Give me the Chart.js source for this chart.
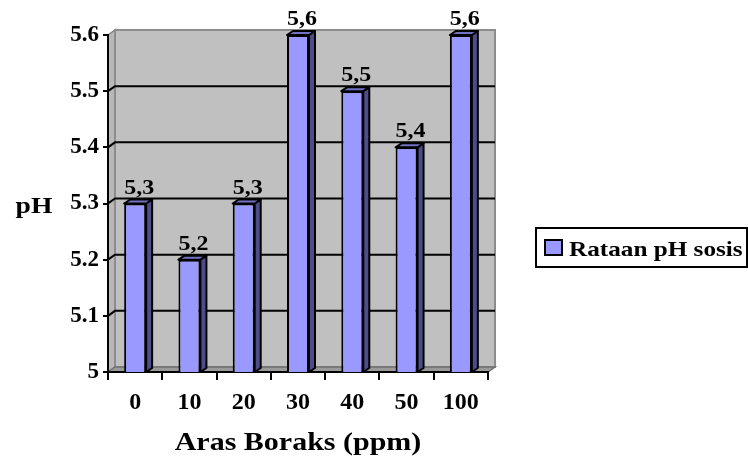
<!DOCTYPE html>
<html><head><meta charset="utf-8">
<script src="https://cdn.jsdelivr.net/npm/chart.js@4"></script>
<style>html,body{margin:0;padding:0;background:#fff}</style>
</head><body>
<canvas id="c" width="748" height="466"></canvas>
<script>
const categories = ['0', '10', '20', '30', '40', '50', '100'];
const phValues = [5.3, 5.2, 5.3, 5.6, 5.5, 5.4, 5.6];
const yTickLabels = ['5', '5.1', '5.2', '5.3', '5.4', '5.5', '5.6'];
const seriesName = 'Rataan pH sosis';
const xTitle = 'Aras Boraks (ppm)';
const yTitle = 'pH';

const FONT = "'Liberation Serif', 'Times New Roman', serif";
const WX = 7, WY = -5;   // wall depth offset
const BX = 6, BY = -4;   // bar depth offset
const SX = 1.2;          // horizontal text stretch of the original picture
const FACE = '#9999FF', TOP = '#7272C4', SIDE = '#4D4D8C';

function poly(ctx, pts) {
  ctx.beginPath();
  ctx.moveTo(pts[0][0], pts[0][1]);
  for (let i = 1; i < pts.length; i++) ctx.lineTo(pts[i][0], pts[i][1]);
  ctx.closePath();
}
function sText(ctx, text, x, y, align, baseline) {
  ctx.save();
  ctx.translate(x, y);
  ctx.scale(SX, 1);
  ctx.textAlign = align; ctx.textBaseline = baseline;
  ctx.fillText(text, 0, 0);
  ctx.restore();
}

const depth3d = {
  id: 'depth3d',
  beforeDraw(chart) {
    const { ctx, chartArea: a, scales: { y } } = chart;
    ctx.save();
    // left wall
    ctx.fillStyle = '#B8B8B8';
    poly(ctx, [[a.left, a.top], [a.left + WX, a.top + WY], [a.left + WX, a.bottom + WY], [a.left, a.bottom]]);
    ctx.fill();
    ctx.strokeStyle = '#808080'; ctx.lineWidth = 1.5; ctx.stroke();
    // back wall
    ctx.fillStyle = '#C0C0C0';
    ctx.fillRect(a.left + WX, a.top + WY, a.right - a.left, a.bottom - a.top);
    ctx.strokeStyle = '#8C8C8C'; ctx.lineWidth = 2;
    ctx.strokeRect(a.left + WX, a.top + WY, a.right - a.left, a.bottom - a.top);
    // floor
    ctx.fillStyle = '#9A9A9A';
    poly(ctx, [[a.left, a.bottom], [a.right, a.bottom], [a.right + WX, a.bottom + WY], [a.left + WX, a.bottom + WY]]);
    ctx.fill();
    ctx.strokeStyle = '#707070'; ctx.lineWidth = 1.5; ctx.stroke();
    // gridlines on back wall
    ctx.strokeStyle = '#000'; ctx.lineWidth = 2;
    y.ticks.forEach(t => {
      if (t.value <= y.min + 1e-9 || t.value >= y.max - 1e-9) return;
      const py = y.getPixelForValue(t.value);
      ctx.beginPath();
      ctx.moveTo(a.left, py);
      ctx.lineTo(a.left + WX, py + WY);
      ctx.lineTo(a.right + WX, py + WY);
      ctx.stroke();
    });
    ctx.restore();
  },
  afterDatasetsDraw(chart) {
    const { ctx, scales: { y } } = chart;
    const meta = chart.getDatasetMeta(0);
    const base = y.getPixelForValue(y.min);
    ctx.save();
    ctx.lineWidth = 2; ctx.strokeStyle = '#000'; ctx.lineJoin = 'round';
    meta.data.forEach((bar, i) => {
      const p = bar.getProps(['x', 'y', 'width'], true);
      const l = p.x - p.width / 2, r = p.x + p.width / 2;
      // side face
      ctx.fillStyle = SIDE;
      poly(ctx, [[r, p.y], [r + BX, p.y + BY], [r + BX, base + BY], [r, base]]);
      ctx.fill(); ctx.stroke();
      // top face
      ctx.fillStyle = TOP;
      poly(ctx, [[l, p.y], [l + BX, p.y + BY], [r + BX, p.y + BY], [r, p.y]]);
      ctx.fill(); ctx.stroke();
      // value label
      ctx.fillStyle = '#000';
      ctx.font = 'bold 20px ' + FONT;
      sText(ctx, phValues[i].toFixed(1).replace('.', ','), p.x + 4, p.y - 10, 'center', 'alphabetic');
    });
    ctx.restore();
  },
  afterDraw(chart) {
    const { ctx, chartArea: a } = chart;
    ctx.save();
    ctx.fillStyle = '#000';
    // axis titles
    ctx.font = 'bold 25px ' + FONT;
    sText(ctx, xTitle, (a.left + a.right) / 2, 450, 'center', 'alphabetic');
    ctx.font = 'bold 23px ' + FONT;
    sText(ctx, yTitle, 34, 213, 'center', 'alphabetic');
    // legend
    ctx.lineWidth = 2; ctx.strokeStyle = '#000';
    ctx.strokeRect(536, 228, 211, 39);
    ctx.fillStyle = FACE;
    ctx.fillRect(545, 240, 17, 15);
    ctx.lineWidth = 2;
    ctx.strokeRect(545, 240, 17, 15);
    ctx.fillStyle = '#000';
    ctx.font = 'bold 21px ' + FONT;
    sText(ctx, chart.data.datasets[0].label, 569, 256, 'left', 'alphabetic');
    ctx.restore();
  }
};

new Chart(document.getElementById('c'), {
  type: 'bar',
  data: {
    labels: categories,
    datasets: [{
      label: seriesName,
      data: phValues,
      backgroundColor: FACE,
      borderColor: '#000',
      borderWidth: 2,
      barPercentage: 0.405,
      categoryPercentage: 1.0
    }]
  },
  options: {
    responsive: false,
    animation: false,
    layout: { padding: { left: 0, top: 35, right: 260, bottom: 0 } },
    plugins: { legend: { display: false }, tooltip: { enabled: false } },
    scales: {
      x: {
        offset: true,
        grid: { display: true, drawOnChartArea: false, drawTicks: true, tickLength: 8, offset: true, color: '#000', lineWidth: 2 },
        border: { display: true, color: '#000', width: 2 },
        ticks: { color: '#000', font: { family: FONT, size: 24, weight: 'bold' }, padding: 8, maxRotation: 0 },
        afterFit(s) { s.height = 94; }
      },
      y: {
        min: 5, max: 5.6,
        grid: { display: true, drawOnChartArea: false, drawTicks: true, tickLength: 5, color: '#000', lineWidth: 2 },
        border: { display: true, color: '#000', width: 2 },
        ticks: {
          stepSize: 0.1, color: '#000', padding: 4,
          font: { family: FONT, size: 23, weight: 'bold' },
          callback: (v, i) => yTickLabels[i]
        },
        afterFit(s) { s.width = 108; }
      }
    }
  },
  plugins: [depth3d]
});
</script>
</body></html>
